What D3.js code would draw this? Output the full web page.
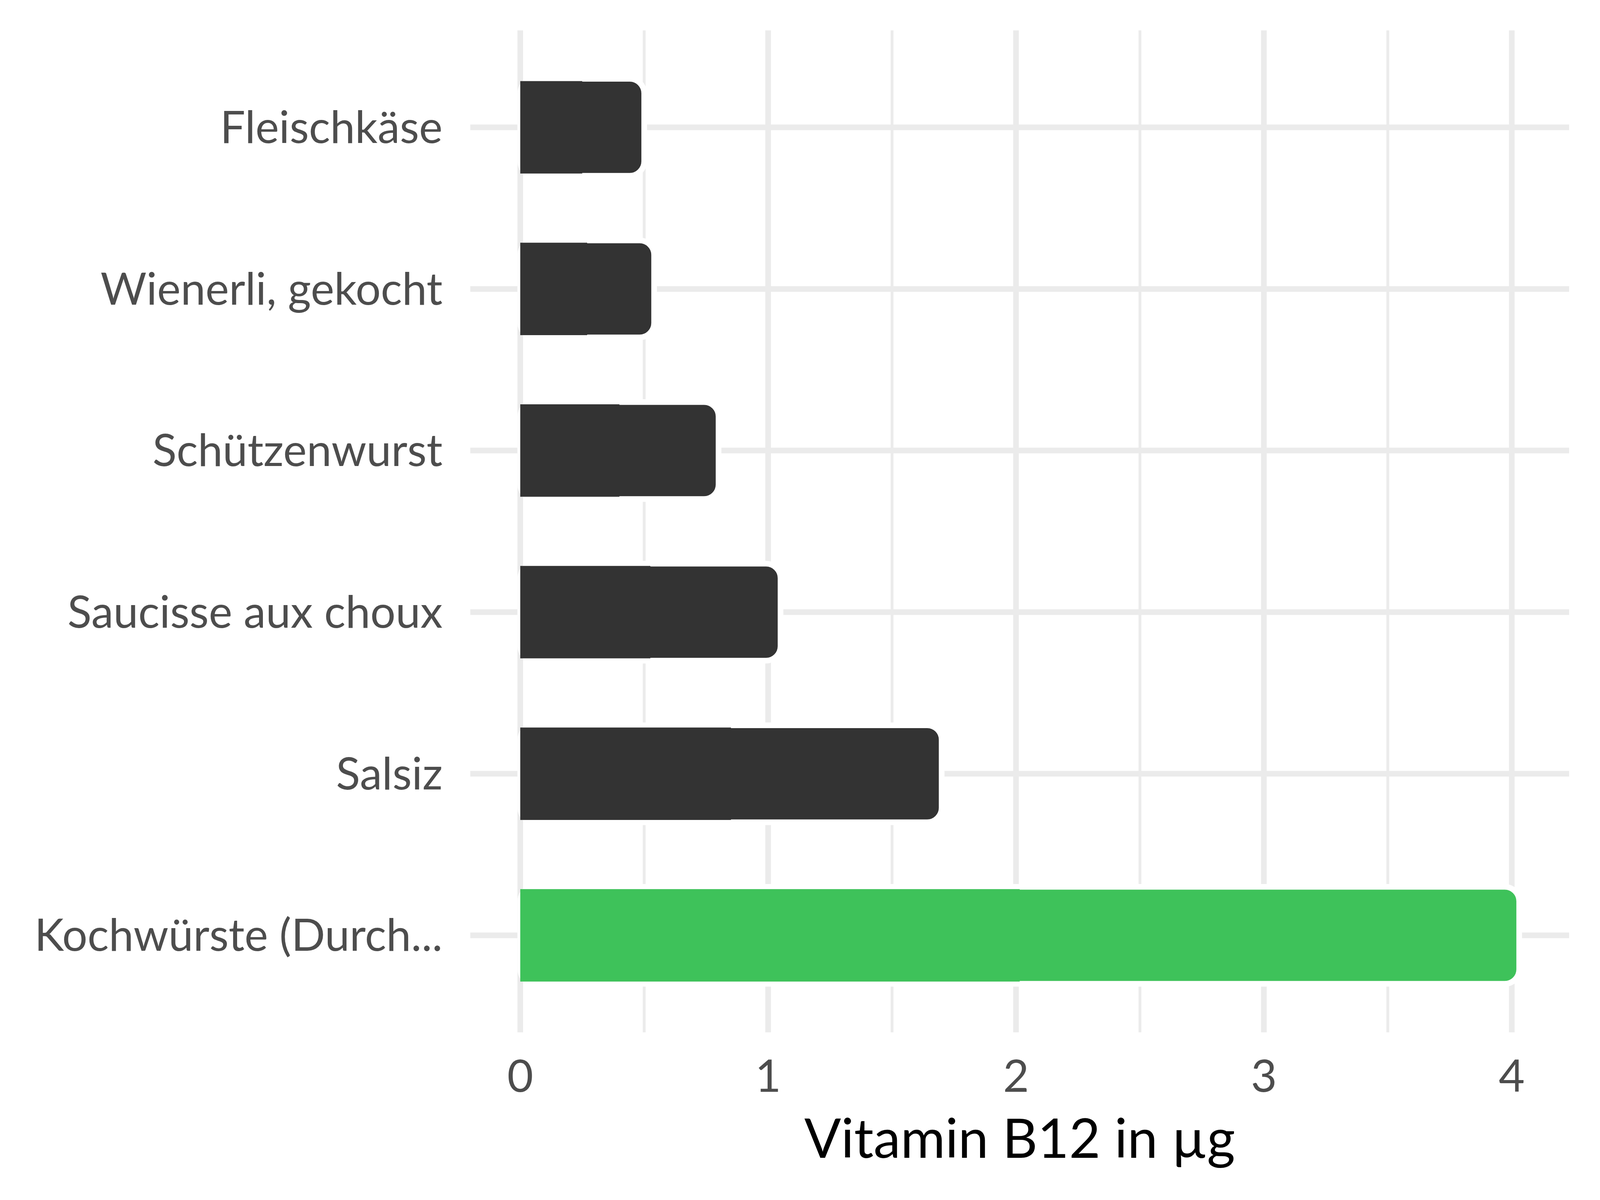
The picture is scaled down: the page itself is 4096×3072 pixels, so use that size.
<!DOCTYPE html>
<html>
<head>
<meta charset="utf-8">
<script src="https://cdn.jsdelivr.net/npm/d3@7"></script>
<style>
  html, body { margin: 0; padding: 0; background: #ffffff; }
  svg { display: block; }
</style>
</head>
<body>
<svg id="chart" width="4096" height="3072"></svg>
<script>
// ---- data ----
const categories = ["Fleischkäse", "Wienerli, gekocht", "Schützenwurst", "Saucisse aux choux", "Salsiz", "Kochwürste (Durch..."];
const values = [0.50, 0.54, 0.80, 1.05, 1.70, 4.03];
const highlight = [false, false, false, false, false, true];
const xTicks = [0, 1, 2, 3, 4];
const xMinor = [0.5, 1.5, 2.5, 3.5];
const xTitle = "Vitamin B12 in µg";

// ---- layout ----
const W = 4096, H = 3072;
const panel = { left: 1204, right: 4017, top: 77.7, bottom: 2642.7 };
const font = "Lato, 'Open Sans', sans-serif";
const gridColor = "#EBEBEB";

const svg = d3.select("#chart");
svg.append("rect").attr("width", W).attr("height", H).attr("fill", "#ffffff");

const maxV = d3.max(values);
const x = d3.scaleLinear()
  .domain([-0.05 * maxV, 1.05 * maxV])
  .range([panel.left, panel.right]);

const y = d3.scaleBand()
  .domain(categories)
  .range([panel.top, panel.bottom])
  .paddingInner(0.4)
  .paddingOuter(0.3);

const g = svg.append("g");

// minor vertical gridlines
g.selectAll("line.minor").data(xMinor).enter().append("line")
  .attr("x1", d => x(d)).attr("x2", d => x(d))
  .attr("y1", panel.top).attr("y2", panel.bottom)
  .attr("stroke", gridColor).attr("stroke-width", 7.2);

// major vertical gridlines
g.selectAll("line.majorx").data(xTicks).enter().append("line")
  .attr("x1", d => x(d)).attr("x2", d => x(d))
  .attr("y1", panel.top).attr("y2", panel.bottom)
  .attr("stroke", gridColor).attr("stroke-width", 14.5);

// major horizontal gridlines
g.selectAll("line.majory").data(categories).enter().append("line")
  .attr("x1", panel.left).attr("x2", panel.right)
  .attr("y1", d => y(d) + y.bandwidth() / 2).attr("y2", d => y(d) + y.bandwidth() / 2)
  .attr("stroke", gridColor).attr("stroke-width", 14.5);

const rows = categories.map((c, i) => ({ c, v: values[i], hl: highlight[i] }));
const color = d => d.hl ? "#3EC25A" : "#333333";

// rounded bars with white outline
g.selectAll("rect.round").data(rows).enter().append("rect")
  .attr("x", x(0))
  .attr("y", d => y(d.c))
  .attr("width", d => x(d.v) - x(0))
  .attr("height", y.bandwidth())
  .attr("rx", 37).attr("ry", 37)
  .attr("fill", color)
  .attr("stroke", "#ffffff")
  .attr("stroke-width", 14.5);

// square left half (to keep the base square)
const inset = 5.8;
g.selectAll("rect.square").data(rows).enter().append("rect")
  .attr("x", x(0))
  .attr("y", d => y(d.c) + inset)
  .attr("width", d => x(d.v / 2) - x(0))
  .attr("height", y.bandwidth() - 2 * inset)
  .attr("fill", color);

// y labels
g.selectAll("text.ylab").data(categories).enter().append("text")
  .attr("x", 1133)
  .attr("y", d => y(d) + y.bandwidth() / 2 + 40)
  .attr("text-anchor", "end")
  .attr("font-family", font)
  .attr("font-size", 114)
  .attr("fill", "#4D4D4D")
  .text(d => d);

// x tick labels
g.selectAll("text.xtick").data(xTicks).enter().append("text")
  .attr("x", d => x(d))
  .attr("y", 2794.5)
  .attr("text-anchor", "middle")
  .attr("font-family", font)
  .attr("font-size", 115)
  .attr("fill", "#4D4D4D")
  .text(d => d3.format("d")(d));

// x title
g.append("text")
  .attr("x", (panel.left + panel.right) / 2)
  .attr("y", 2963.6)
  .attr("text-anchor", "middle")
  .attr("font-family", font)
  .attr("font-size", 139)
  .attr("fill", "#000000")
  .text(xTitle);
</script>
</body>
</html>
